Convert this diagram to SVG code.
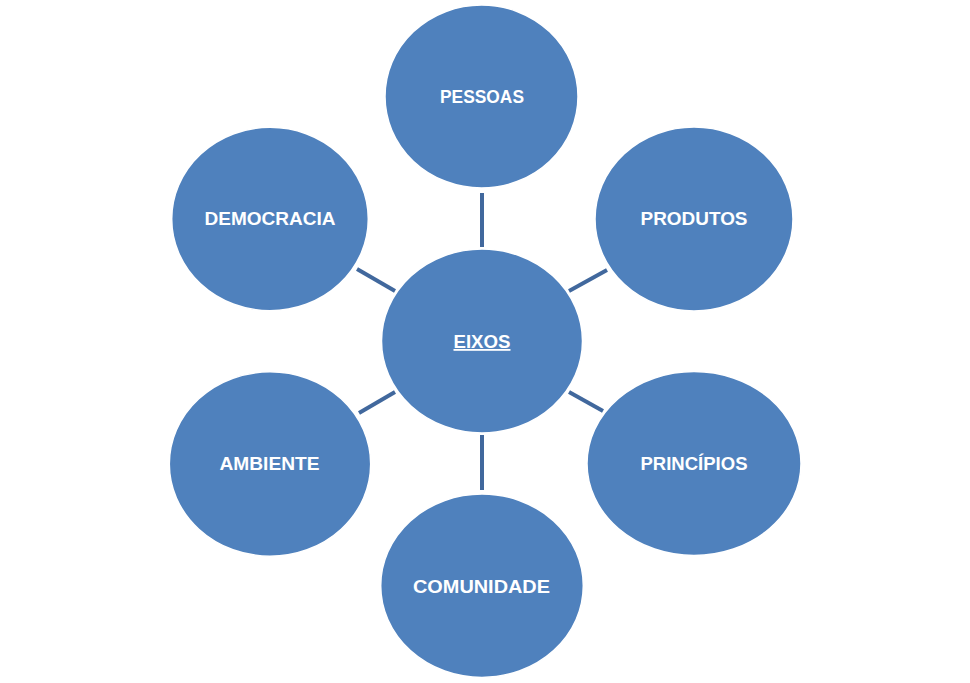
<svg xmlns="http://www.w3.org/2000/svg" width="970" height="683" viewBox="0 0 970 683">
<style>
.n{fill:#4f81bd;stroke:#ffffff;stroke-width:1.5}
.t{fill:#ffffff;font-family:"Liberation Sans",Arial,sans-serif;font-weight:bold;font-size:18px;text-anchor:middle}
.c line{stroke:#41689d;stroke-width:4}
</style>
<rect width="970" height="683" fill="#ffffff"/>
<g class="c" id="connectors">
<line x1="482" y1="193" x2="482" y2="247"/>
<line x1="569" y1="291" x2="607" y2="270"/>
<line x1="569" y1="392" x2="603" y2="411"/>
<line x1="482" y1="435" x2="482" y2="490"/>
<line x1="359" y1="413" x2="395" y2="392"/>
<line x1="357" y1="269" x2="395" y2="291"/>
</g>
<g id="eixos"><ellipse class="n" cx="482" cy="341" rx="100.5" ry="92"/><text class="t" x="482" y="348" textLength="57" lengthAdjust="spacingAndGlyphs" text-decoration="underline">EIXOS</text></g>
<g id="pessoas"><ellipse class="n" cx="481.5" cy="96.5" rx="96.5" ry="91.5"/><text class="t" x="482" y="102.5" textLength="84" lengthAdjust="spacingAndGlyphs">PESSOAS</text></g>
<g id="produtos"><ellipse class="n" cx="694" cy="219" rx="99" ry="92"/><text class="t" x="694" y="225" textLength="107" lengthAdjust="spacingAndGlyphs">PRODUTOS</text></g>
<g id="principios"><ellipse class="n" cx="694" cy="463.5" rx="107" ry="92"/><text class="t" x="694" y="470" textLength="107" lengthAdjust="spacingAndGlyphs">PRINCÍPIOS</text></g>
<g id="comunidade"><ellipse class="n" cx="482" cy="585.7" rx="101.3" ry="91.7"/><text class="t" x="481.5" y="592.5" textLength="137" lengthAdjust="spacingAndGlyphs">COMUNIDADE</text></g>
<g id="ambiente"><ellipse class="n" cx="270" cy="464" rx="100.7" ry="92.2"/><text class="t" x="269.5" y="470" textLength="100" lengthAdjust="spacingAndGlyphs">AMBIENTE</text></g>
<g id="democracia"><ellipse class="n" cx="270" cy="219" rx="98.3" ry="91.7"/><text class="t" x="270" y="225" textLength="131" lengthAdjust="spacingAndGlyphs">DEMOCRACIA</text></g>
</svg>
